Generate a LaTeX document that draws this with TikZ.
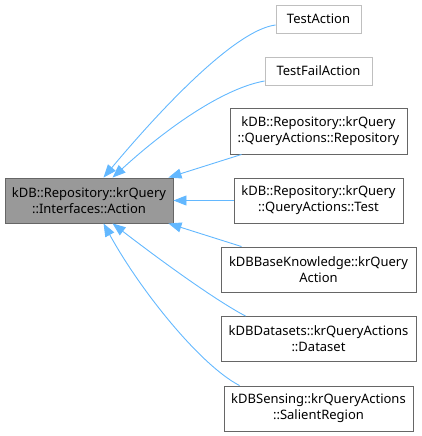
\documentclass[tikz,border=0pt]{standalone}
\usepackage{fontspec}
\setmainfont{Noto Sans}
\usetikzlibrary{arrows.meta}
\definecolor{edgeblue}{HTML}{63B8FF}
\definecolor{darkborder}{HTML}{666666}
\definecolor{lightborder}{HTML}{BFBFBF}
\definecolor{mainfill}{HTML}{999999}
\tikzset{
  cls/.style={draw=darkborder, line width=0.9pt, fill=white, align=center, inner sep=0pt,
    font=\fontsize{13}{16}\selectfont, text=black},
  lightcls/.style={cls, draw=lightborder},
  maincls/.style={cls, fill=mainfill},
  inh/.style={draw=edgeblue, line width=0.9pt, -{Triangle[length=13pt,width=10pt]}},
}
\begin{document}
\begin{tikzpicture}[x=1pt,y=-1pt]
\useasboundingbox (0,0) rectangle (421,436);
\node[maincls, minimum width=168pt, minimum height=45pt] (main) at (89,200.5) {kDB::Repository::krQuery\\::Interfaces::Action};
\node[lightcls, minimum width=85pt, minimum height=28pt] (ta) at (318.5,19) {TestAction};
\node[lightcls, minimum width=107pt, minimum height=28pt] (tfa) at (318.5,71) {TestFailAction};
\node[cls, minimum width=177pt, minimum height=46pt] (repo) at (318.5,131) {kDB::Repository::krQuery\\::QueryActions::Repository};
\node[cls, minimum width=169pt, minimum height=45pt] (test) at (318.5,200.5) {kDB::Repository::krQuery\\::QueryActions::Test};
\node[cls, minimum width=195pt, minimum height=45pt] (bk) at (318.5,269.5) {kDBBaseKnowledge::krQuery\\Action};
\node[cls, minimum width=195pt, minimum height=45pt] (ds) at (318.5,339) {kDBDatasets::krQueryActions\\::Dataset};
\node[cls, minimum width=189pt, minimum height=45pt] (sr) at (318.5,408.5) {kDBSensing::krQueryActions\\::SalientRegion};

\draw[inh] ([yshift=-6pt]ta.west) .. controls (235,30) and (160,110) .. ([xshift=99pt]main.north west);
\draw[inh] ([yshift=-10pt]tfa.west) .. controls (225,88) and (170,125) .. ([xshift=108pt]main.north west);
\draw[inh] ([xshift=12pt]repo.south west) -- ([xshift=-5pt]main.north east);
\draw[inh] (test.west) -- (main.east);
\draw[inh] ([xshift=21pt]bk.north west) -- ([xshift=-5pt]main.south east);
\draw[inh] ([xshift=25pt]ds.north west) .. controls (215,300) and (160,260) .. ([xshift=108pt]main.south west);
\draw[inh] ([xshift=16pt]sr.north west) .. controls (200,365) and (140,290) .. ([xshift=99pt]main.south west);
\end{tikzpicture}
\end{document}
